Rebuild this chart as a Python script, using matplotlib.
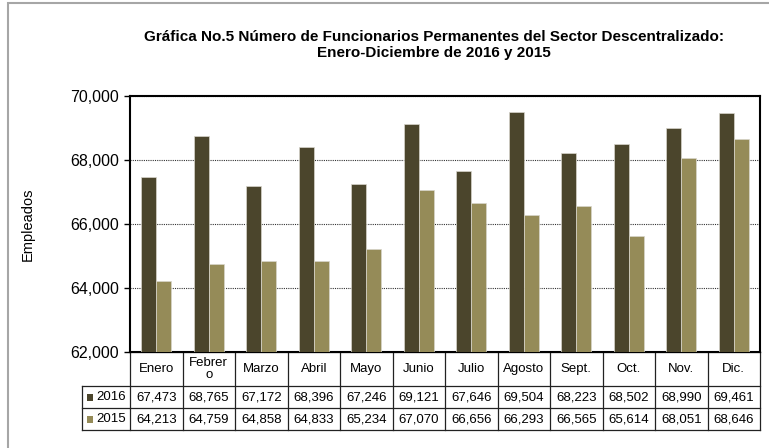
import numpy as np
import matplotlib
matplotlib.use("Agg")
import matplotlib.pyplot as plt
from matplotlib.patches import Rectangle
from matplotlib.ticker import FuncFormatter
from matplotlib.transforms import blended_transform_factory

plt.rcParams['font.family'] = ['Liberation Sans', 'DejaVu Sans']

# datos
meses = ["Enero", "Febrer\no", "Marzo", "Abril", "Mayo", "Junio", "Julio",
         "Agosto", "Sept.", "Oct.", "Nov.", "Dic."]
anios = ["2016", "2015"]
v2016 = [67473, 68765, 67172, 68396, 67246, 69121, 67646, 69504, 68223, 68502, 68990, 69461]
v2015 = [64213, 64759, 64858, 64833, 65234, 67070, 66656, 66293, 66565, 65614, 68051, 68646]
colores = ["#4b452c", "#958b58"]

W, H = 769, 448
fig = plt.figure(figsize=(W / 100, H / 100), dpi=100)
ax = fig.add_axes([130 / W, 1 - 352 / H, 630 / W, 256 / H])

x = np.arange(len(meses))
bw = 0.285
ax.bar(x - bw / 2, v2016, bw, color=colores[0], edgecolor="#d8d6cc", linewidth=0.5, zorder=3)
ax.bar(x + bw / 2, v2015, bw, color=colores[1], edgecolor="#d8d6cc", linewidth=0.5, zorder=3)

ax.set_xlim(-0.5, len(meses) - 0.5)
ax.set_ylim(62000, 70000)
ax.set_yticks([62000, 64000, 66000, 68000, 70000])
ax.yaxis.set_major_formatter(FuncFormatter(lambda v, p: f"{int(v):,}"))
ax.tick_params(axis="y", direction="out", length=4, width=1, pad=4, labelsize=11.5)
ax.set_xticks([])
ax.grid(axis="y", linestyle=(0, (1, 1)), color="#333333", linewidth=0.8, zorder=1)
for s in ax.spines.values():
    s.set_linewidth(1.5)
    s.set_color("black")

ax.set_ylabel("Empleados", fontsize=10.5)
ax.yaxis.set_label_coords(-95 / 630, 0.5)

# tabla de datos (x en datos, y en fraccion del eje)
tr = blended_transform_factory(ax.transData, ax.transAxes)
px_x = 1 / 52.5     # un pixel en unidades de x
px_y = 1 / 256      # un pixel en unidades de y del eje
y_head = -34 * px_y
y_r1 = y_head - 22 * px_y
y_r2 = y_r1 - 22 * px_y
x_lab = -0.5 - 48 * px_x
x_end = len(meses) - 0.5
lc = "#222222"
lw = 0.9

# lineas horizontales
ax.plot([-0.5, x_end], [0, 0], color=lc, lw=lw, transform=tr, clip_on=False)
for yy in [y_head, y_r1, y_r2]:
    ax.plot([x_lab, x_end], [yy, yy], color=lc, lw=lw, transform=tr, clip_on=False)
# lineas verticales
for i in range(len(meses) + 1):
    ax.plot([i - 0.5, i - 0.5], [0, y_r2], color=lc, lw=lw, transform=tr, clip_on=False)
ax.plot([x_lab, x_lab], [y_head, y_r2], color=lc, lw=lw, transform=tr, clip_on=False)

for i, m in enumerate(meses):
    ax.text(i, y_head / 2, m, ha="center", va="center", fontsize=9.5, transform=tr,
            linespacing=1.1)
for j, (a, vals) in enumerate(zip(anios, [v2016, v2015])):
    yc = y_head - 22 * px_y * (j + 0.5)
    ax.add_patch(Rectangle((x_lab + 5 * px_x, yc - 3.5 * px_y), 6 * px_x, 7 * px_y,
                           facecolor=colores[j], edgecolor="none", transform=tr,
                           clip_on=False))
    ax.text(x_lab + 14 * px_x, yc, a, ha="left", va="center", fontsize=9.5, transform=tr)
    for i, v in enumerate(vals):
        ax.text(i, yc, f"{v:,}", ha="center", va="center", fontsize=9.5, transform=tr)

fig.text(434 / W, 1 - 45 / H,
         "Gráfica No.5 Número de Funcionarios Permanentes del Sector Descentralizado:\n"
         "Enero-Diciembre de 2016 y 2015",
         ha="center", va="center", fontsize=11, fontweight="bold", linespacing=1.15)

# borde del area del grafico
fig.patches.append(Rectangle((8 / W, -0.1), 1.2, 1.1 - 3 / H,
                             transform=fig.transFigure, fill=False,
                             edgecolor="#a6a6a6", linewidth=1.5))

fig.savefig("out.png", dpi=100)
